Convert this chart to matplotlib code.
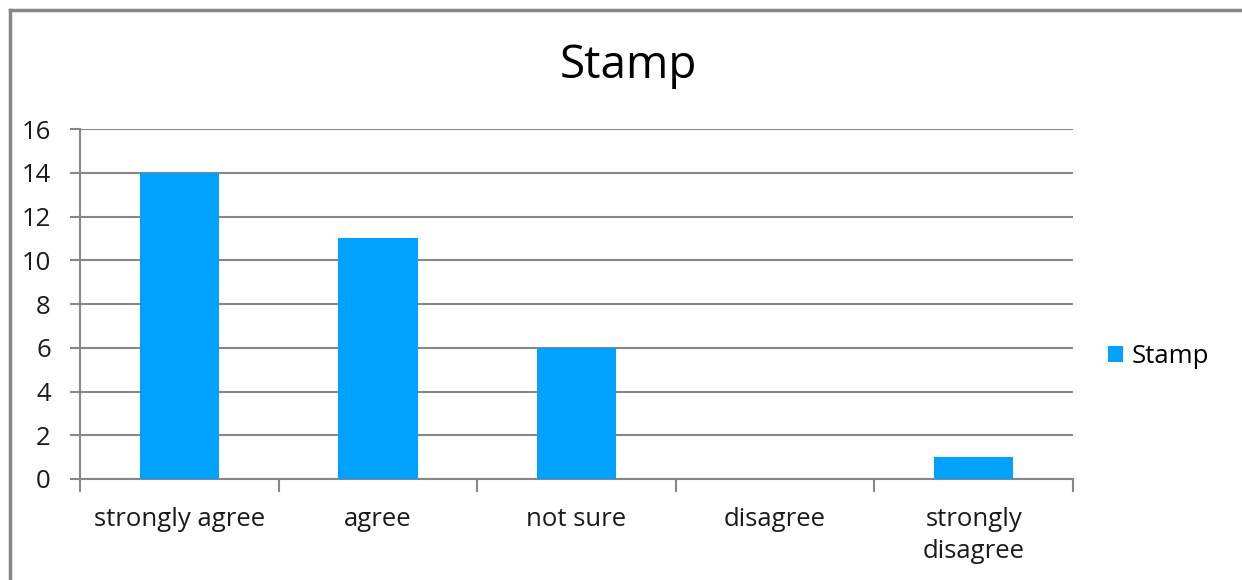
import matplotlib
matplotlib.use('Agg')
import matplotlib.pyplot as plt
from matplotlib.lines import Line2D

categories = ['strongly agree', 'agree', 'not sure', 'disagree', 'strongly\ndisagree']
values = [14, 11, 6, 0, 1]
series_name = 'Stamp'
y_ticks = [0, 2, 4, 6, 8, 10, 12, 14, 16]

plt.rcParams['font.family'] = ['Open Sans', 'DejaVu Sans']
grid_color = '#878787'
bar_color = '#00A2FF'
text_color = '#1a1a1a'

fig = plt.figure(figsize=(12.42, 5.8), dpi=100)
ax = fig.add_axes([80 / 1242, 101 / 580, 993 / 1242, 350 / 580])

x = list(range(len(categories)))
ax.bar(x, values, width=0.4, color=bar_color, label=series_name, zorder=3)

ax.set_xlim(-0.5, len(categories) - 0.5)
ax.set_ylim(0, 16)
ax.set_yticks(y_ticks)
ax.set_yticklabels([str(t) for t in y_ticks], fontsize=18.5, color=text_color)
ax.yaxis.grid(True, color=grid_color, linewidth=1.5, zorder=0)

# category labels centred, tick marks on category boundaries
ax.set_xticks(x)
ax.set_xticklabels(categories, fontsize=18.5, color=text_color, linespacing=1.4)
ax.tick_params(axis='x', length=0, pad=20)
ax.set_xticks([i - 0.5 for i in range(len(categories) + 1)], minor=True)
ax.tick_params(axis='x', which='minor', length=9, width=1.5, color=grid_color)
ax.tick_params(axis='y', length=7, width=1.5, color=grid_color, pad=14)

for side in ['top', 'right']:
    ax.spines[side].set_visible(False)
for side in ['left', 'bottom']:
    ax.spines[side].set_color(grid_color)
    ax.spines[side].set_linewidth(1.5)

fig.text(628 / 1242, 1 - 66 / 580, 'Stamp', fontsize=33, ha='center', va='center', color='black')

ax.legend(loc='center left', bbox_to_anchor=(1.012, 0.35), frameon=False,
          fontsize=18.5, handlelength=0.6, handleheight=0.6, handletextpad=0.3)

# outer chart border (only top and left visible in the crop)
fig.add_artist(Line2D([10 / 1242, 1], [1 - 10 / 580, 1 - 10 / 580], color=grid_color, linewidth=2.5,
                      transform=fig.transFigure))
fig.add_artist(Line2D([10 / 1242, 10 / 1242], [0, 1 - 10 / 580], color=grid_color, linewidth=2.5,
                      transform=fig.transFigure))

fig.savefig('out.png', dpi=100)
